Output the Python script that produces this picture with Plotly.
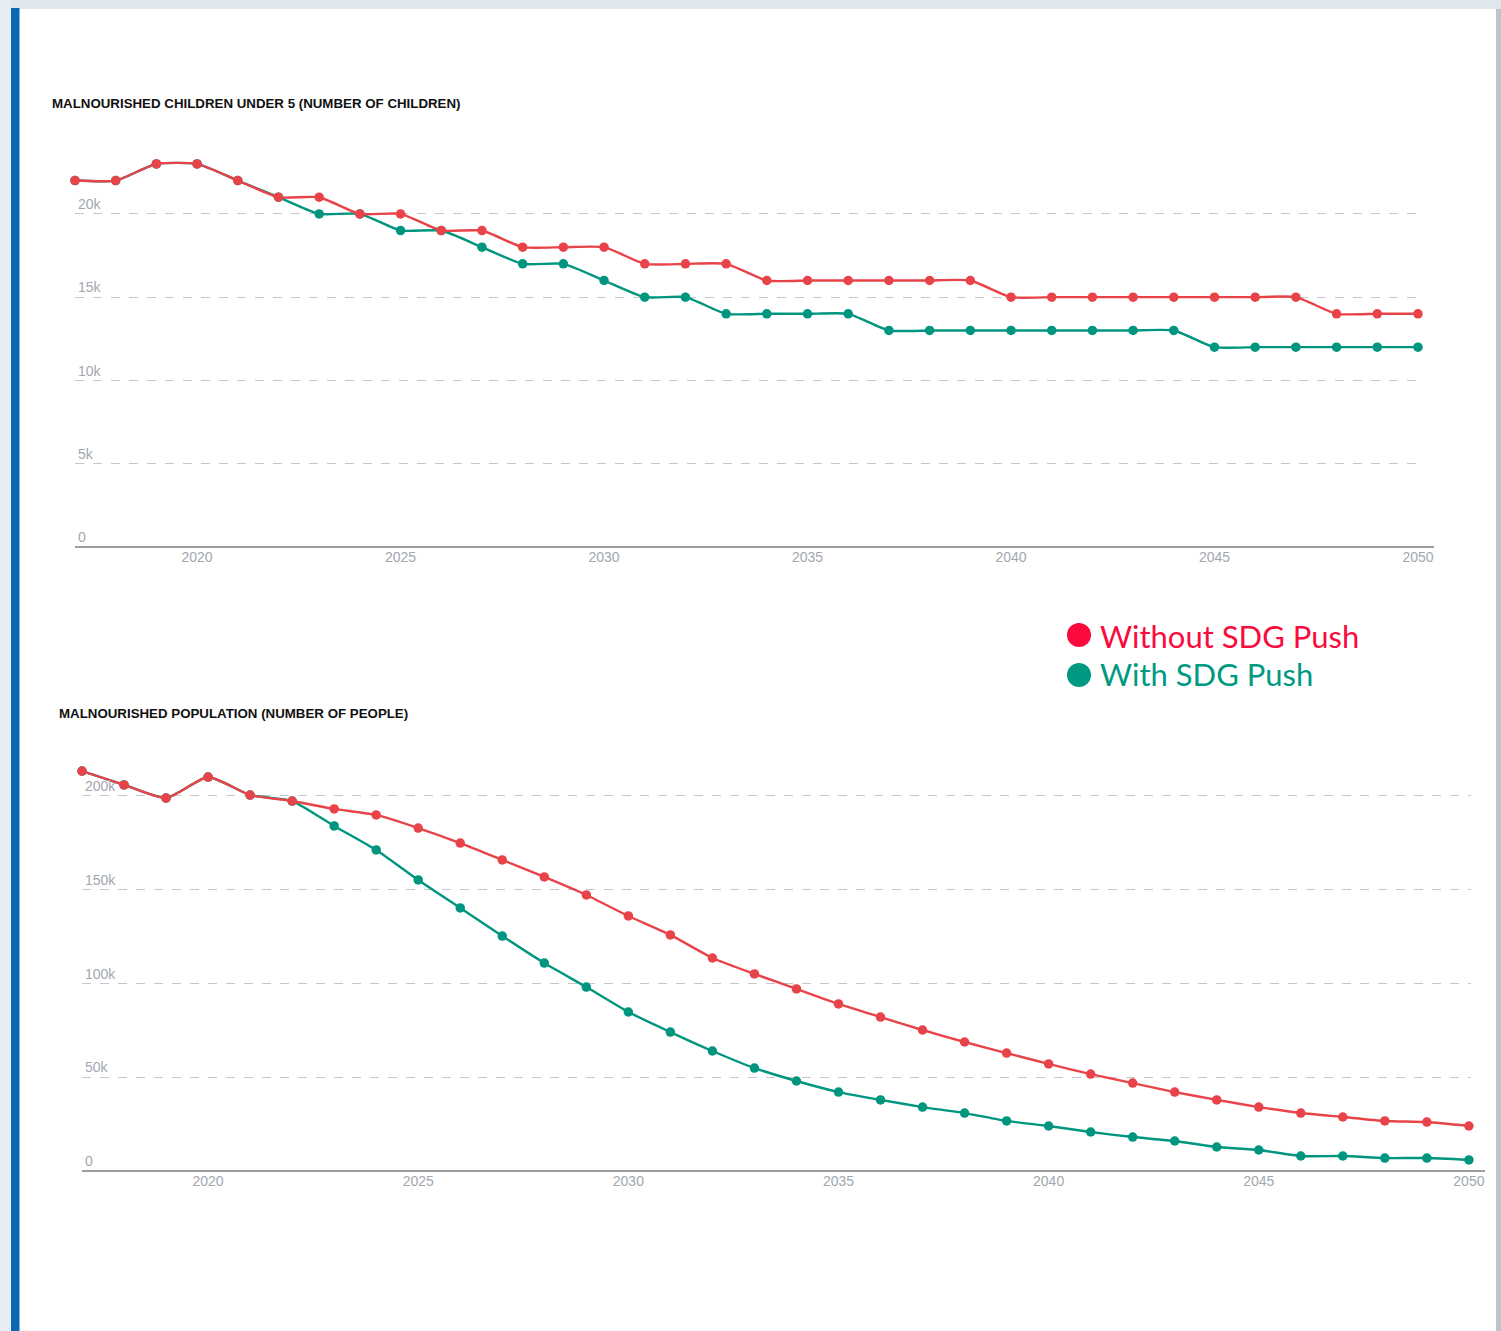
import plotly.graph_objects as go

# ---- data -------------------------------------------------------------
years = list(range(2017, 2051))

# malnourished children under 5 (thousands)
children_without = [22, 22, 23, 23, 22, 21, 21, 20, 20, 19, 19, 18, 18, 18, 17, 17, 17,
                    16, 16, 16, 16, 16, 16, 15, 15, 15, 15, 15, 15, 15, 15, 14, 14, 14]
children_with = [22, 22, 23, 23, 22, 21, 20, 20, 19, 19, 18, 17, 17, 16, 15, 15, 14,
                 14, 14, 14, 13, 13, 13, 13, 13, 13, 13, 13, 12, 12, 12, 12, 12, 12]

# malnourished population (thousands)
population_without = [213.3, 205.9, 198.9, 210.1, 200.5, 197.3, 193.1, 189.9, 182.9, 174.9,
                      165.9, 156.8, 147.2, 136.0, 125.9, 113.6, 105.1, 97.1, 89.1, 82.1,
                      75.2, 68.8, 62.9, 57.1, 51.7, 46.9, 42.1, 37.9, 34.1, 30.9,
                      28.8, 26.7, 26.1, 24.0]
population_with = [213.3, 205.9, 198.9, 210.1, 200.5, 197.3, 184.0, 171.2, 155.2, 140.3,
                   125.3, 110.9, 98.1, 84.8, 74.1, 64.0, 54.9, 48.0, 42.1, 37.9,
                   34.1, 30.9, 26.7, 24.0, 20.8, 18.1, 16.0, 12.8, 11.2, 8.0,
                   8.0, 6.9, 6.9, 5.9]

x_ticks = [2020, 2025, 2030, 2035, 2040, 2045, 2050]
children_ticks = [0, 5, 10, 15, 20]
children_labels = ["0", "5k", "10k", "15k", "20k"]
population_ticks = [0, 50, 100, 150, 200]
population_labels = ["0", "50k", "100k", "150k", "200k"]

series_names = ["Without SDG Push", "With SDG Push"]
chart_titles = ["MALNOURISHED CHILDREN UNDER 5 (NUMBER OF CHILDREN)",
                "MALNOURISHED POPULATION (NUMBER OF PEOPLE)"]

# ---- style ------------------------------------------------------------
W, H = 1501, 1331
RED_LINE = "#e9434a"
TEAL_LINE = "#00957f"
RED_KEY = "#fb0a3d"
TEAL_KEY = "#009982"
TICK_GREY = "#a2a7af"
GRID_GREY = "#c4c7cc"
AXIS_GREY = "#9a9ea5"
AXIS_FONT = "Liberation Sans, Arial, sans-serif"


def px_x(v):
    return v / W


def px_y(v):
    return 1 - v / H


fig = go.Figure()


def add_series(xaxis, yaxis, values, color, name):
    fig.add_trace(go.Scatter(
        x=years, y=values, mode="lines+markers", name=name,
        line=dict(color=color, width=2.4, shape="spline", smoothing=0.55),
        marker=dict(color=color, size=9.5),
        xaxis=xaxis, yaxis=yaxis, cliponaxis=False, showlegend=False,
    ))


add_series("x", "y", children_with, TEAL_LINE, series_names[1])
add_series("x", "y", children_without, RED_LINE, series_names[0])
add_series("x2", "y2", population_with, TEAL_LINE, series_names[1])
add_series("x2", "y2", population_without, RED_LINE, series_names[0])

common_x = dict(
    tickvals=x_ticks, showgrid=False, zeroline=False, showline=False,
    ticks="", automargin=False,
    tickfont=dict(family=AXIS_FONT, size=14, color=TICK_GREY),
)
common_y = dict(
    showgrid=True, gridcolor=GRID_GREY, griddash="dash", gridwidth=1,
    zeroline=False, showline=False, ticks="", automargin=False,
    ticklabelposition="inside top",
    tickfont=dict(family=AXIS_FONT, size=14, color=TICK_GREY),
)

fig.update_layout(
    width=W, height=H, autosize=False,
    margin=dict(l=0, r=0, t=0, b=0),
    paper_bgcolor="white", plot_bgcolor="rgba(0,0,0,0)",
    showlegend=False,
    xaxis=dict(common_x, range=[2017, 2050.05], domain=[px_x(75), px_x(1420)], anchor="y"),
    yaxis=dict(common_y, range=[0, 25], domain=[px_y(547), px_y(130.6)], anchor="x",
               tickvals=children_ticks, ticktext=children_labels),
    xaxis2=dict(common_x, range=[2017, 2050.05], domain=[px_x(82), px_x(1471)], anchor="y2"),
    yaxis2=dict(common_y, range=[0, 225], domain=[px_y(1171), px_y(749.1)], anchor="x2",
                tickvals=population_ticks, ticktext=population_labels),
)

# ---- page frame -------------------------------------------------------
shapes = [
    dict(type="rect", xref="paper", yref="paper", x0=0, x1=1, y0=px_y(9), y1=1,
         fillcolor="#dfe6ee", line_width=0, layer="below"),
    dict(type="rect", xref="paper", yref="paper", x0=0, x1=px_x(11), y0=0, y1=1,
         fillcolor="#e7edf4", line_width=0, layer="below"),
    dict(type="rect", xref="paper", yref="paper", x0=px_x(11), x1=px_x(19.5), y0=0, y1=px_y(8),
         fillcolor="#0b68b3", line_width=0, layer="below"),
    dict(type="rect", xref="paper", yref="paper", x0=px_x(1496), x1=1, y0=0, y1=px_y(9),
         fillcolor="#c0c4ca", line_width=0, layer="below"),
    # baselines, running a little past the last year
    dict(type="line", xref="paper", yref="paper", x0=px_x(75), x1=px_x(1434),
         y0=px_y(547), y1=px_y(547), line=dict(color=AXIS_GREY, width=2), layer="below"),
    dict(type="line", xref="paper", yref="paper", x0=px_x(82), x1=px_x(1485),
         y0=px_y(1171), y1=px_y(1171), line=dict(color=AXIS_GREY, width=2), layer="below"),
]

# legend keys
key_x = 1079
for cy, color in [(635, RED_KEY), (675, TEAL_KEY)]:
    shapes.append(dict(type="circle", xref="paper", yref="paper",
                       x0=px_x(key_x - 12), x1=px_x(key_x + 12),
                       y0=px_y(cy + 12), y1=px_y(cy - 12),
                       fillcolor=color, line_width=0))
fig.update_layout(shapes=shapes)

annotations = [
    dict(text="<b>" + chart_titles[0] + "</b>", x=px_x(50), y=px_y(104),
         font=dict(family=AXIS_FONT, size=13.3, color="#111111")),
    dict(text="<b>" + chart_titles[1] + "</b>", x=px_x(57), y=px_y(713),
         font=dict(family=AXIS_FONT, size=13.3, color="#111111")),
    dict(text=series_names[0], x=px_x(1098), y=px_y(636),
         font=dict(family="Lato, sans-serif", size=31, color=RED_KEY)),
    dict(text=series_names[1], x=px_x(1098), y=px_y(674),
         font=dict(family="Lato, sans-serif", size=31, color=TEAL_KEY)),
]
for a in annotations:
    a.update(xref="paper", yref="paper", xanchor="left", yanchor="middle",
             showarrow=False)
fig.update_layout(annotations=annotations)

fig.write_html("out.html")
